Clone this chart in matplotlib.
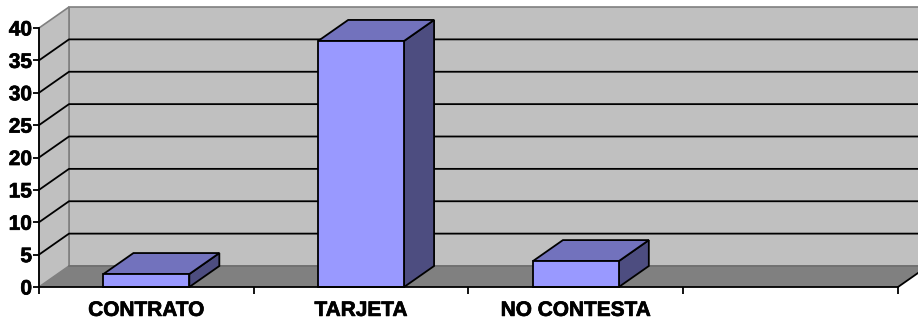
import matplotlib.pyplot as plt
import matplotlib.patheffects as pe
from matplotlib.patches import Polygon, Rectangle

plt.rcParams['font.family'] = ['Liberation Sans', 'DejaVu Sans']

# 数据
categories = ['CONTRATO', 'TARJETA', 'NO CONTESTA', '']
values = [2, 38, 4, None]
y_ticks = [0, 5, 10, 15, 20, 25, 30, 35, 40]

# 3D 深度偏移 (数据单位)
DX = 30 / 214.75
DY = 21 / 6.475
n = len(categories)
ymax = 40

fig = plt.figure(figsize=(9.18, 3.25), dpi=100)
ax = fig.add_axes([39 / 918, 38 / 325, 859 / 918, 259 / 325])
ax.set_xlim(0, n)
ax.set_ylim(0, ymax)
ax.patch.set_visible(False)

wall_c = '#c0c0c0'
floor_c = '#808080'
edge_c = '#808080'

# 墙和地板
back = Polygon([(DX, DY), (n + DX, DY), (n + DX, ymax + DY), (DX, ymax + DY)],
               closed=True, facecolor=wall_c, edgecolor=edge_c, lw=1.2, clip_on=False, zorder=1)
left = Polygon([(0, 0), (DX, DY), (DX, ymax + DY), (0, ymax)],
               closed=True, facecolor=wall_c, edgecolor=edge_c, lw=1.2, clip_on=False, zorder=1)
floor = Polygon([(0, 0), (n, 0), (n + DX, DY), (DX, DY)],
                closed=True, facecolor=floor_c, edgecolor='none', clip_on=False, zorder=1)
for p in (back, left, floor):
    ax.add_patch(p)
ax.plot([DX, n + DX], [DY, DY], color='#6e6e6e', lw=1.2, clip_on=False, zorder=2)

# 网格线
for v in y_ticks[1:-1]:
    ax.plot([0, DX, n + DX], [v, v + DY, v + DY], color='black', lw=1.3,
            clip_on=False, zorder=2)
ax.plot([n, n + DX], [0, DY], color='black', lw=1.3, clip_on=False, zorder=2)

# 柱子
front_c = '#9999ff'
top_c = '#7272bd'
side_c = '#4d4d80'
for i, v in enumerate(values):
    if v is None:
        continue
    x0, x1 = i + 0.3, i + 0.7
    ax.add_patch(Polygon([(x1, 0), (x1 + DX, DY), (x1 + DX, v + DY), (x1, v)], closed=True,
                         facecolor=side_c, edgecolor='black', lw=1.3, clip_on=False, zorder=3))
    ax.add_patch(Polygon([(x0, v), (x1, v), (x1 + DX, v + DY), (x0 + DX, v + DY)], closed=True,
                         facecolor=top_c, edgecolor='black', lw=1.3, clip_on=False, zorder=3))
    ax.add_patch(Rectangle((x0, 0), x1 - x0, v, facecolor=front_c, edgecolor='black',
                           lw=1.3, clip_on=False, zorder=4))

# 坐标轴
for s in ('top', 'right'):
    ax.spines[s].set_visible(False)
for s in ('left', 'bottom'):
    ax.spines[s].set_color('black')
    ax.spines[s].set_linewidth(1.3)
    ax.spines[s].set_zorder(5)

ax.set_yticks(y_ticks)
ax.set_yticklabels([str(t) for t in y_ticks])
ax.tick_params(axis='y', length=4, width=1.3, pad=1, labelsize=15)

ax.set_xticks([i + 0.5 for i in range(n)])
ax.set_xticklabels(categories)
ax.set_xticks(range(n + 1), minor=True)
ax.tick_params(axis='x', which='major', length=0, pad=10, labelsize=15)
ax.tick_params(axis='x', which='minor', length=5, width=1.3)

# 加粗文字
bold_fx = [pe.withStroke(linewidth=0.5, foreground='black')]
for lbl in ax.get_yticklabels() + ax.get_xticklabels():
    lbl.set_fontweight('bold')
    lbl.set_path_effects(bold_fx)

fig.savefig('out.png', dpi=100)
